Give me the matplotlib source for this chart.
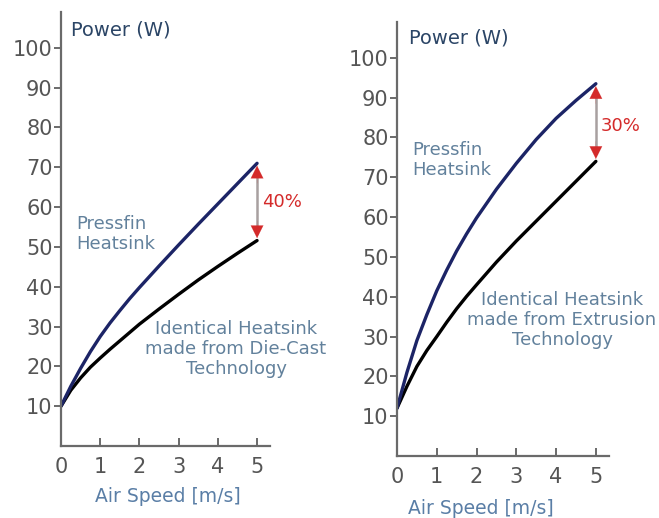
import matplotlib
matplotlib.use("Agg")
import matplotlib.pyplot as plt

plt.rcParams['font.family'] = ['DejaVu Sans']

speed_l = [0, 0.25, 0.5, 0.75, 1, 1.25, 1.5, 1.75, 2, 2.5, 3, 3.5, 4, 4.5, 5]
pressfin_l = [10, 15, 19.5, 23.7, 27.5, 30.9, 34, 37, 39.8, 45.2, 50.5, 55.7, 60.8, 65.9, 71]
diecast_l = [10, 14, 17.1, 19.8, 22.1, 24.3, 26.4, 28.5, 30.6, 34.4, 38.1, 41.7, 45.1, 48.4, 51.6]

speed_r = [0, 0.25, 0.5, 0.75, 1, 1.25, 1.5, 1.75, 2, 2.5, 3, 3.5, 4, 4.5, 5]
pressfin_r = [12, 21, 29, 35.5, 41.5, 46.7, 51.5, 55.8, 59.8, 67, 73.5, 79.5, 84.8, 89.3, 93.5]
extrusion_r = [12, 17.5, 22.5, 26.5, 30, 33.6, 37, 40.1, 43, 48.7, 54, 59, 64, 69, 74]

yticks = [10, 20, 30, 40, 50, 60, 70, 80, 90, 100]
xticks = [0, 1, 2, 3, 4, 5]

pct_l = "40%"
pct_r = "30%"
lbl_l = "Identical Heatsink\nmade from Die-Cast\nTechnology"
lbl_r = "Identical Heatsink\nmade from Extrusion\nTechnology"

W, H = 659, 518
fig = plt.figure(figsize=(W/100, H/100), dpi=100)
fig.patch.set_facecolor('white')

AX_C = '#6a6a6a'
TICK_C = '#555555'
TITLE_C = '#2b4566'
XL_C = '#5a7ea6'
ANN_C = '#62819c'
BLUE = '#1c2466'
RED = '#d42a2a'
SHAFT = '#a8a0a0'

def fx(px): return px / W
def fy(py): return 1 - py / H

def make(rect, x, yp, yo, pct, lbl, pf_xy, lbl_xy, pct_xy, title_xy, xl_xy):
    ax = fig.add_axes(rect)
    ax.set_xlim(0, 5.33)
    ax.set_ylim(0, 109)
    for s in ['top', 'right']:
        ax.spines[s].set_visible(False)
    for s in ['left', 'bottom']:
        ax.spines[s].set_color(AX_C)
        ax.spines[s].set_linewidth(1.6)
    ax.set_yticks(yticks)
    ax.set_xticks(xticks)
    ax.tick_params(axis='y', direction='out', length=5, width=1.4, color=AX_C,
                   labelsize=15, labelcolor=TICK_C, pad=1)
    ax.tick_params(axis='x', direction='in', length=6, width=1.4, color=AX_C,
                   labelsize=15, labelcolor=TICK_C, pad=8)
    ax.plot(x, yo, color='black', lw=2.4, solid_capstyle='round')
    ax.plot(x, yp, color=BLUE, lw=2.4, solid_capstyle='round')
    # arrow: gray shaft, red heads
    xe, ytop, ybot = x[-1], yp[-1], yo[-1]
    ax.plot([xe, xe], [ybot + 2, ytop - 2], color=SHAFT, lw=1.8)
    for tip, base in ((ytop - 0.6, ytop - 5), (ybot + 0.6, ybot + 5)):
        ax.annotate('', xy=(xe, tip), xytext=(xe, base),
                    arrowprops=dict(arrowstyle='-|>,head_length=0.5,head_width=0.25',
                                    color=RED, lw=0.1,
                                    mutation_scale=18, shrinkA=0, shrinkB=0))
    ax.text(pct_xy[0], pct_xy[1], pct, color=RED, fontsize=13,
            transform=fig.transFigure, ha='left', va='center')
    ax.text(pf_xy[0], pf_xy[1], "Pressfin\nHeatsink", color=ANN_C, fontsize=13,
            transform=fig.transFigure, ha='left', va='center', linespacing=1.12)
    ax.text(lbl_xy[0], lbl_xy[1], lbl, color=ANN_C, fontsize=13,
            transform=fig.transFigure, ha='center', va='center', linespacing=1.12)
    ax.text(title_xy[0], title_xy[1], "Power (W)", color=TITLE_C, fontsize=14,
            transform=fig.transFigure, ha='left', va='center')
    ax.text(xl_xy[0], xl_xy[1], "Air Speed [m/s]", color=XL_C, fontsize=13.5,
            transform=fig.transFigure, ha='center', va='center')
    return ax

make([fx(61), fy(446), fx(270) - fx(61), fy(12) - fy(446)],
     speed_l, pressfin_l, diecast_l, pct_l, lbl_l,
     (fx(76), fy(234)), (fx(236), fy(349)), (fx(262), fy(202)),
     (fx(71), fy(30)), (fx(168), fy(497)))

make([fx(397), fy(456), fx(609) - fx(397), fy(22) - fy(456)],
     speed_r, pressfin_r, extrusion_r, pct_r, lbl_r,
     (fx(412), fy(160)), (fx(562), fy(320)), (fx(601), fy(126)),
     (fx(409), fy(38)), (fx(481), fy(508)))

fig.savefig("out.png", dpi=100, facecolor='white')
